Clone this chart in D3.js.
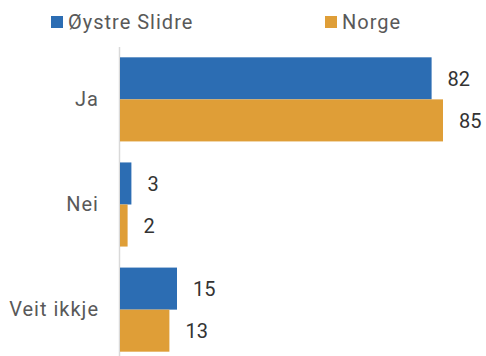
<!DOCTYPE html>
<html>
<head>
<meta charset="utf-8">
<script src="https://cdn.jsdelivr.net/npm/d3@7"></script>
<style>
  html, body { margin: 0; padding: 0; background: #fff; }
  svg { display: block; font-family: Roboto, "Open Sans", sans-serif; }
</style>
</head>
<body>
<svg id="chart" width="486" height="356"></svg>
<script>
// Answer categories and the two series (percent)
const categories = ["Ja", "Nei", "Veit ikkje"];
const seriesNames = ["Øystre Slidre", "Norge"];
const valuesOystreSlidre = [82, 3, 15];
const valuesNorge = [85, 2, 13];
const seriesColors = ["#2c6db3", "#df9e37"];

const series = [valuesOystreSlidre, valuesNorge];

const width = 486, height = 356;
const svg = d3.select("#chart");

const x = d3.scaleLinear().domain([0, 100]).range([120, 500]);

const y = d3.scaleBand()
  .domain(categories)
  .range([46.8, 362.2])
  .paddingInner(0.2)
  .paddingOuter(0.1);

const ySub = d3.scaleBand()
  .domain(d3.range(series.length))
  .range([0, y.bandwidth()]);

// Vertical baseline
svg.append("line")
  .attr("x1", 119.5).attr("x2", 119.5)
  .attr("y1", 47).attr("y2", height)
  .attr("stroke", "#d9d9d9")
  .attr("stroke-width", 1.5);

// Bars and value labels
const groups = svg.selectAll("g.cat")
  .data(categories)
  .join("g")
  .attr("class", "cat")
  .attr("transform", d => `translate(0,${y(d)})`);

series.forEach((vals, si) => {
  groups.append("rect")
    .attr("x", x(0))
    .attr("y", ySub(si))
    .attr("width", (d, i) => x(vals[i]) - x(0))
    .attr("height", ySub.bandwidth())
    .attr("fill", seriesColors[si]);

  groups.append("text")
    .attr("x", (d, i) => x(vals[i]) + 16)
    .attr("y", ySub(si) + ySub.bandwidth() / 2)
    .attr("dy", "0.36em")
    .attr("font-size", 20)
    .attr("fill", "#333")
    .text((d, i) => vals[i]);
});

// Category labels
const yAxis = d3.axisLeft(y).tickSize(0).tickPadding(0);
const axisG = svg.append("g")
  .attr("transform", "translate(99,0)")
  .call(yAxis);
axisG.select(".domain").remove();
axisG.selectAll("text")
  .attr("font-size", 20)
  .attr("font-family", "Roboto, 'Open Sans', sans-serif")
  .attr("fill", "#595959")
  .attr("letter-spacing", "1px");

// Legend
const legendX = [51, 325];
const legend = svg.selectAll("g.legend")
  .data(seriesNames)
  .join("g")
  .attr("class", "legend")
  .attr("transform", (d, i) => `translate(${legendX[i]},16)`);
legend.append("rect")
  .attr("width", 12).attr("height", 12)
  .attr("fill", (d, i) => seriesColors[i]);
legend.append("text")
  .attr("x", 17)
  .attr("y", 6)
  .attr("dy", "0.36em")
  .attr("font-size", 20)
  .attr("fill", "#595959")
  .attr("letter-spacing", "1px")
  .text(d => d);
</script>
</body>
</html>
